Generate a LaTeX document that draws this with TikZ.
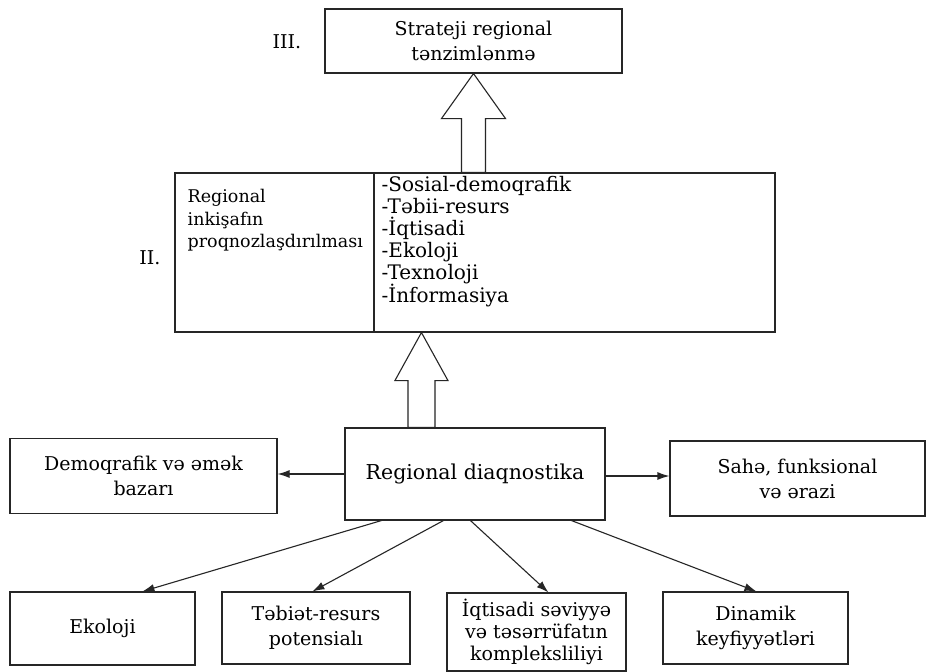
\documentclass[tikz,border=0pt]{standalone}
\usepackage{fontspec}
\setmainfont{DejaVu Serif}
\usetikzlibrary{arrows.meta,calc}
\begin{document}
\begin{tikzpicture}[x=1pt,y=-1pt,
  txt/.style={font=\fontsize{19}{25}\selectfont},
  box/.style={draw=black!85, line width=1.1pt, align=center, inner sep=0pt, txt},
  conn/.style={draw=black!85, line width=1.1pt, -{Latex[length=12pt,width=8pt]}},
  hollow/.style={draw=black!85, line width=1.1pt, fill=white, line join=miter}]
\useasboundingbox[fill=white] (0,0) rectangle (935,672);

% level III
\node[box, minimum width=297pt, minimum height=64pt] (top) at (473.5,41) {Strateji regional\\tənzimlənmə};
\node[txt] (l3) at (287,42) {III.};

% level II
\node[box, minimum width=199pt, minimum height=159pt] (midL) at (274.5,252.5) {};
\node[box, minimum width=401pt, minimum height=159pt] (midR) at (574.5,252.5) {};
\node[anchor=north west, align=left, inner sep=0pt, font=\fontsize{17.5}{22.5}\selectfont] (prog) at ($(midL.north west)+(13,17)$) {Regional\\inkişafın\\proqnozlaşdırılması};
\node[anchor=north west, align=left, inner sep=0pt, font=\fontsize{20}{21.8}\selectfont] (kinds) at ($(midR.north west)+(8,4)$) {-Sosial-demoqrafik\\-Təbii-resurs\\-İqtisadi\\-Ekoloji\\-Texnoloji\\-İnformasiya};
\node[txt] (l2) at (150,258) {II.};

% diagnostics row
\node[box, minimum width=260pt, minimum height=92pt, font=\fontsize{20.5}{25}\selectfont] (diag) at (475,474) {Regional diaqnostika};
\node[box, minimum width=267pt, minimum height=75pt] (demo) at (143.5,476) {Demoqrafik və əmək\\bazarı};
\node[box, minimum width=255pt, minimum height=75pt] (sahe) at (797.5,478.5) {Sahə, funksional\\və ərazi};

% bottom row
\node[box, minimum width=185pt, minimum height=73pt] (eko) at (102.5,628.5) {Ekoloji};
\node[box, minimum width=188pt, minimum height=72pt] (tebiet) at (316,628) {Təbiət-resurs\\potensialı};
\node[box, minimum width=179pt, minimum height=78pt, font=\fontsize{19}{22}\selectfont] (iqt) at (536.5,632) {İqtisadi səviyyə\\və təsərrüfatın\\kompleksliliyi};
\node[box, minimum width=185pt, minimum height=72pt] (din) at (755.5,628) {Dinamik\\keyfiyyətləri};

% hollow arrow diag -> level II
\coordinate (t2) at ($(midR.south west)+(48,0)$);
\coordinate (s2r) at ($(t2)+(13.5,0)$);
\coordinate (s2l) at ($(t2)+(-13.5,0)$);
\draw[hollow] (t2) -- ++(26.5,48) -- ++(-13,0) -- (s2r |- diag.north)
  -- (s2l |- diag.north) -- ($(t2)+(-13.5,48)$) -- ++(-13,0) -- cycle;

% hollow arrow level II -> level III
\coordinate (t1) at (top.south);
\coordinate (s1r) at ($(t1)+(12,0)$);
\coordinate (s1l) at ($(t1)+(-12,0)$);
\draw[hollow] (t1) -- ++(32,45) -- ++(-20,0) -- (s1r |- midR.north)
  -- (s1l |- midR.north) -- ($(t1)+(-12,45)$) -- ++(-20,0) -- cycle;

% side arrows
\draw[conn] (diag.west) -- (demo.east |- diag.west);
\coordinate (de) at ($(diag.east)+(0,2)$);
\draw[conn] (de) -- (sahe.west |- de);

% diagonal arrows
\draw[conn] ($(diag.south west)+(37,0)$) -- ($(eko.north west)+(133,0)$);
\draw[conn] ($(diag.south west)+(99,0)$) -- ($(tebiet.north west)+(91,0)$);
\draw[conn] ($(diag.south west)+(126,0)$) -- ($(iqt.north west)+(102,0)$);
\draw[conn] ($(diag.south west)+(227,0)$) -- ($(din.north west)+(94,0)$);
\end{tikzpicture}
\end{document}
